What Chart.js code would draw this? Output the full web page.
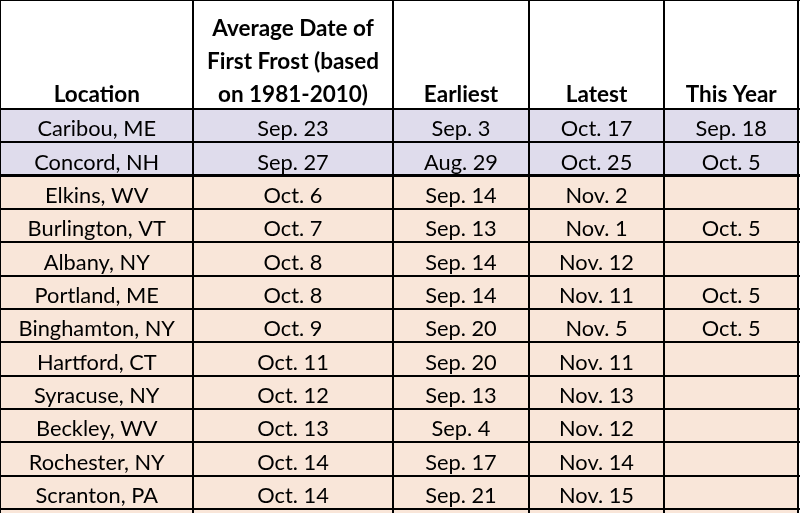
<!DOCTYPE html>
<html>
<head>
<meta charset="utf-8">
<script src="https://cdn.jsdelivr.net/npm/chart.js@4.4.1/dist/chart.umd.min.js"></script>
<style>
html,body{margin:0;padding:0;background:#ffffff;}
#wrap{width:800px;height:513px;position:relative;}
</style>
</head>
<body>
<div id="wrap"><canvas id="c"></canvas></div>
<script>
// ---- data ----
const headerLines = [
  ['Location'],
  ['Average Date of', 'First Frost (based', 'on 1981-2010)'],
  ['Earliest'],
  ['Latest'],
  ['This Year']
];
const locations = ['Caribou, ME', 'Concord, NH', 'Elkins, WV', 'Burlington, VT', 'Albany, NY', 'Portland, ME',
  'Binghamton, NY', 'Hartford, CT', 'Syracuse, NY', 'Beckley, WV', 'Rochester, NY', 'Scranton, PA', ''];
const averageDates = ['Sep. 23', 'Sep. 27', 'Oct. 6', 'Oct. 7', 'Oct. 8', 'Oct. 8',
  'Oct. 9', 'Oct. 11', 'Oct. 12', 'Oct. 13', 'Oct. 14', 'Oct. 14', ''];
const earliestDates = ['Sep. 3', 'Aug. 29', 'Sep. 14', 'Sep. 13', 'Sep. 14', 'Sep. 14',
  'Sep. 20', 'Sep. 20', 'Sep. 13', 'Sep. 4', 'Sep. 17', 'Sep. 21', ''];
const latestDates = ['Oct. 17', 'Oct. 25', 'Nov. 2', 'Nov. 1', 'Nov. 12', 'Nov. 11',
  'Nov. 5', 'Nov. 11', 'Nov. 13', 'Nov. 12', 'Nov. 14', 'Nov. 15', ''];
const thisYearDates = ['Sep. 18', 'Oct. 5', '', 'Oct. 5', '', 'Oct. 5',
  'Oct. 5', '', '', '', '', '', ''];
const rowGroups = ['A', 'A', 'B', 'B', 'B', 'B', 'B', 'B', 'B', 'B', 'B', 'B', 'B'];

// ---- layout & style ----
const columnEdges = [0, 192.5, 392.5, 528.5, 663.5, 798];
const headerUnits = 3.27;      // header height measured in row heights
const visibleUnits = 15.39;    // visible table height in row heights
const groupColors = { A: '#dfdcec', B: '#f9e6d9' };
const FONT = 'Lato, "Liberation Sans", sans-serif';

const rowEdges = [0];
for (let i = 0; i <= locations.length; i++) rowEdges.push(headerUnits + i);

const textPlugin = {
  id: 'tableText',
  afterDraw(chart) {
    const { ctx, scales: { x, y } } = chart;
    const columns = [locations, averageDates, earliestDates, latestDates, thisYearDates];
    const cx = c => (x.getPixelForValue(columnEdges[c]) + x.getPixelForValue(columnEdges[c + 1])) / 2;
    ctx.save();
    ctx.fillStyle = '#000000';
    ctx.textAlign = 'center';
    ctx.textBaseline = 'alphabetic';
    ctx.font = 'bold 22.5px ' + FONT;
    const hb = y.getPixelForValue(headerUnits);
    headerLines.forEach((lines, c) => {
      lines.forEach((t, k) => ctx.fillText(t, cx(c) + 0.5, hb - 7.5 - (lines.length - 1 - k) * 32.7));
    });
    ctx.font = '21.8px ' + FONT;
    columns.forEach((col, c) => {
      col.forEach((t, r) => {
        const bottom = y.getPixelForValue(headerUnits + r + 1);
        ctx.fillText(t, cx(c) + 0.5, bottom - 6);
      });
    });
    ctx.restore();
  }
};

new Chart(document.getElementById('c'), {
  type: 'bar',
  data: {
    datasets: [{
      data: locations.map((_, i) => ({ y: headerUnits + i + 0.5, x: [columnEdges[0], columnEdges[columnEdges.length - 1]] })),
      backgroundColor: rowGroups.map(g => groupColors[g]),
      borderWidth: 0,
      barPercentage: 1,
      categoryPercentage: 1
    }]
  },
  options: {
    indexAxis: 'y',
    responsive: true,
    maintainAspectRatio: false,
    animation: false,
    layout: { padding: 0 },
    plugins: { legend: { display: false }, tooltip: { enabled: false } },
    scales: {
      x: {
        type: 'linear', min: 0, max: 800, offset: false,
        ticks: { display: false },
        border: { display: false },
        grid: { color: '#000000', lineWidth: 2, drawTicks: false, z: 1, offset: false },
        afterBuildTicks: s => { s.ticks = columnEdges.map(v => ({ value: v })); }
      },
      y: {
        type: 'linear', reverse: true, min: 0, max: visibleUnits, offset: false,
        ticks: { display: false },
        border: { display: false },
        grid: {
          color: '#000000',
          lineWidth: c => (c.index === 3 ? 3 : 2),
          drawTicks: false, z: 1, offset: false
        },
        afterBuildTicks: s => { s.ticks = rowEdges.map(v => ({ value: v })); }
      }
    }
  },
  plugins: [textPlugin]
});
</script>
</body>
</html>
